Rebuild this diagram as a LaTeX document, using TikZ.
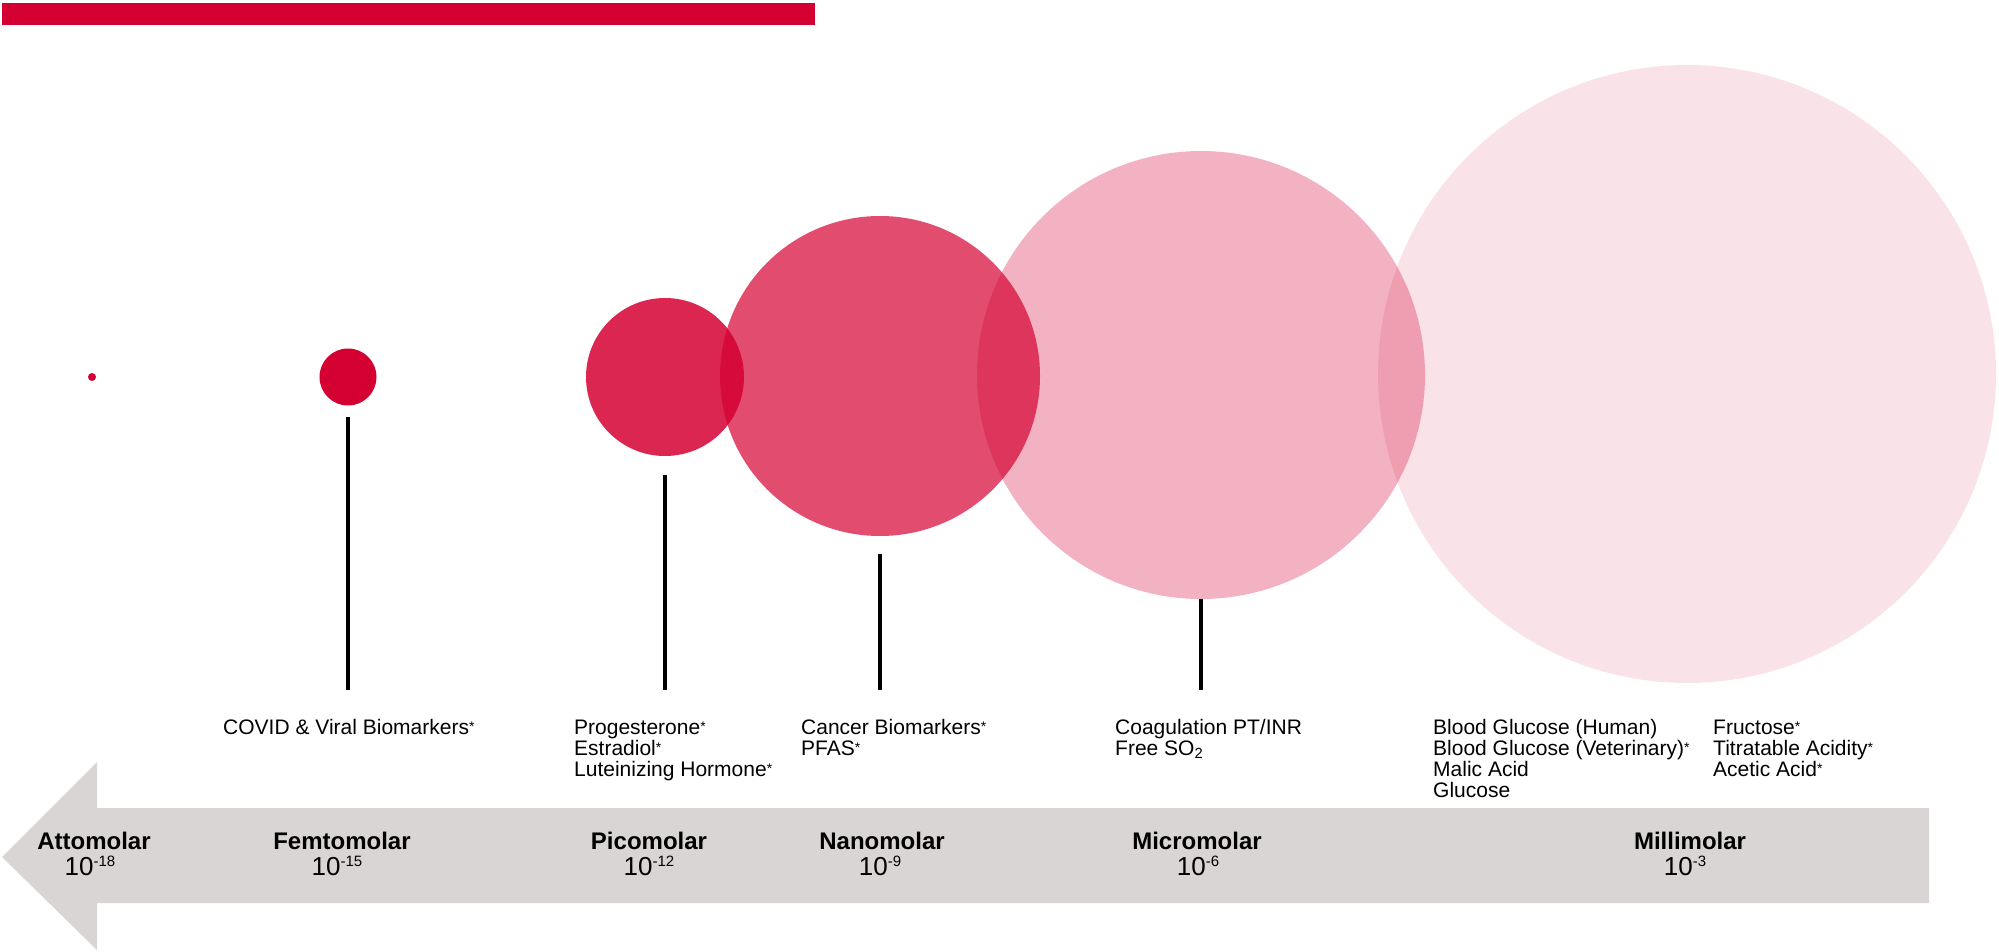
\documentclass[tikz,border=0pt]{standalone}
\usepackage{fontspec}
\setmainfont{Liberation Sans}
\definecolor{brand}{HTML}{D50032}
\definecolor{arrowgray}{HTML}{D9D5D4}
\newcommand\tenpow[1]{10\raisebox{9pt}{\fontsize{15}{15}\selectfont -#1}}
\newcommand\st{\raisebox{2.5pt}{\fontsize{14}{14}\selectfont*}}
\begin{document}
\begin{tikzpicture}[x=1pt,y=-1pt,
  bubble/.style={circle,inner sep=0pt,fill=brand,draw=none},
  stem/.style={line width=3.5pt,black},
  lab/.style={anchor=base west,inner sep=0pt,align=left,font=\fontsize{21}{21.2}\selectfont},
  molar/.style={anchor=base,inner sep=0pt,font=\fontsize{24}{24}\selectfont\bfseries},
  expo/.style={anchor=base,inner sep=0pt,font=\fontsize{26}{26}\selectfont}]
\useasboundingbox (0,0) rectangle (1999,952);
% top bar
\fill[brand] (2,3) rectangle (815,25);
% scale arrow
\fill[arrowgray] (2,857) -- (97,762) -- (97,808) -- (1929,808) -- (1929,903) -- (97,903) -- (97,950) -- cycle;
% bubbles
\node[bubble,minimum size=8pt] (atto) at (92,377) {};
\node[bubble,minimum size=57pt] (femto) at (348,377) {};
\node[bubble,minimum size=158pt,fill opacity=0.85] (pico) at (665,377) {};
\node[bubble,minimum size=320pt,fill opacity=0.7] (nano) at (880,376) {};
\node[bubble,minimum size=448pt,fill opacity=0.3] (micro) at (1201,375) {};
\node[bubble,minimum size=618pt,fill opacity=0.11] (milli) at (1687,374) {};
% stems
\coordinate (femtoT) at (348,417); \coordinate (femtoB) at (348,690);
\coordinate (picoT) at (665,475); \coordinate (picoB) at (665,690);
\coordinate (nanoT) at (880,554); \coordinate (nanoB) at (880,690);
\coordinate (microB) at (1201,690);
\draw[stem] (femtoT) -- (femtoB);
\draw[stem] (picoT) -- (picoB);
\draw[stem] (nanoT) -- (nanoB);
\draw[stem] (micro.south) -- (microB);
% analyte labels (anchor = baseline of the last line)
\node[lab] (covid) at (223,734) {COVID \& Viral Biomarkers\st};
\node[lab] (hormones) at (574,776.4) {Progesterone\st\\Estradiol\st\\Luteinizing Hormone\st};
\node[lab] (cancer) at (801,755.2) {Cancer Biomarkers\st\\PFAS\st};
\node[lab] (coag) at (1115,755.2) {Coagulation PT/INR\\Free SO\textsubscript{2}};
\node[lab] (glucose) at (1433,797.6) {Blood Glucose (Human)\\Blood Glucose (Veterinary)\st\\Malic Acid\\Glucose};
\node[lab] (acids) at (1713,776.4) {Fructose\st\\Titratable Acidity\st\\Acetic Acid\st};
% scale labels
\node[molar] (attoN) at (94,849) {Attomolar};
\node[expo] (attoE) at (90,875) {\tenpow{18}};
\node[molar] (femtoN) at (342,849) {Femtomolar};
\node[expo] (femtoE) at (337,875) {\tenpow{15}};
\node[molar] (picoN) at (649,849) {Picomolar};
\node[expo] (picoE) at (649,875) {\tenpow{12}};
\node[molar] (nanoN) at (882,849) {Nanomolar};
\node[expo] (nanoE) at (880,875) {\tenpow{9}};
\node[molar] (microN) at (1197,849) {Micromolar};
\node[expo] (microE) at (1198,875) {\tenpow{6}};
\node[molar] (milliN) at (1690,849) {Millimolar};
\node[expo] (milliE) at (1685,875) {\tenpow{3}};
\end{tikzpicture}
\end{document}
